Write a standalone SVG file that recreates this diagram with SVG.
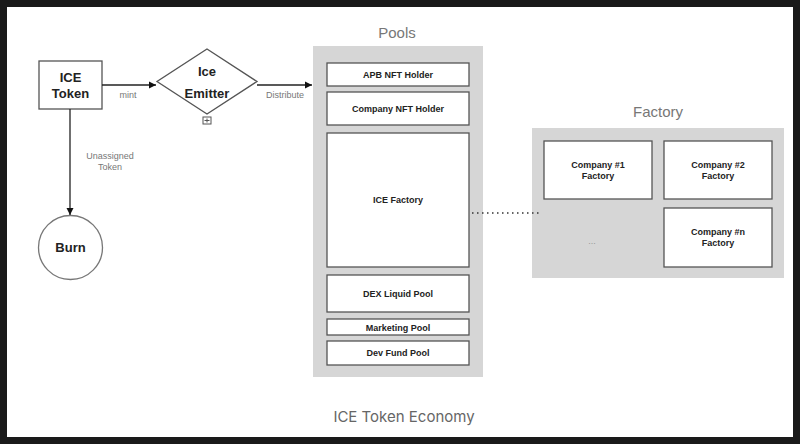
<svg xmlns="http://www.w3.org/2000/svg" width="800" height="444" viewBox="0 0 800 444">
<defs>
<marker id="arr" markerWidth="8" markerHeight="8" refX="7" refY="4" orient="auto" markerUnits="userSpaceOnUse">
<path d="M0,0.5 L7,4 L0,7.5 Z" fill="#111"/>
</marker>
<style>
.box{fill:#fff;stroke:#555;stroke-width:1.3}
.grp{fill:#d6d6d6}
.bt{font-family:"Liberation Sans",Arial,sans-serif;font-weight:bold;fill:#222;text-anchor:middle}
.lbl{font-family:"Liberation Sans",Arial,sans-serif;fill:#777;text-anchor:middle;font-size:9px}
.hd{font-family:"Liberation Sans",Arial,sans-serif;fill:#777;text-anchor:middle;font-size:15px}
.ln{stroke:#222;stroke-width:1.3;fill:none}
</style>
</defs>
<rect x="0" y="0" width="800" height="444" fill="#1a1a1a"/>
<rect x="7" y="7" width="786" height="430" fill="#fff"/>

<g id="ice-token">
<rect class="box" x="39" y="61" width="63" height="48"/>
<text class="bt" x="70.5" y="82" font-size="13">ICE</text>
<text class="bt" x="70.5" y="98" font-size="13">Token</text>
</g>

<g id="ice-emitter">
<polygon class="box" points="207,49 257,81.5 207,114 157,81.5"/>
<text class="bt" x="207" y="76" font-size="13">Ice</text>
<text class="bt" x="207" y="98" font-size="13">Emitter</text>
<rect x="203" y="117" width="8" height="7" fill="#fff" stroke="#555" stroke-width="1"/>
<path d="M207,118.5 V122.5 M204.5,120.5 H209.5" stroke="#555" stroke-width="1"/>
</g>

<g id="burn">
<circle cx="70.5" cy="247.5" r="32" fill="#fff" stroke="#777" stroke-width="1.3"/>
<text class="bt" x="70.5" y="252" font-size="13">Burn</text>
</g>

<g id="pools">
<text class="hd" x="397" y="38">Pools</text>
<rect class="grp" x="313" y="46" width="170" height="331"/>
</g>
<g id="apb-nft-holder">
<rect class="box" x="327" y="63" width="142" height="23"/>
<text class="bt" x="398" y="78" font-size="9">APB NFT Holder</text>
</g>
<g id="company-nft-holder">
<rect class="box" x="327" y="92" width="142" height="33"/>
<text class="bt" x="398" y="112" font-size="9">Company NFT Holder</text>
</g>
<g id="ice-factory">
<rect class="box" x="327" y="133" width="142" height="134"/>
<text class="bt" x="398" y="203" font-size="9">ICE Factory</text>
</g>
<g id="dex-liquid-pool">
<rect class="box" x="327" y="275" width="142" height="37"/>
<text class="bt" x="398" y="297" font-size="9">DEX Liquid Pool</text>
</g>
<g id="marketing-pool">
<rect class="box" x="327" y="319" width="142" height="16"/>
<text class="bt" x="398" y="330.5" font-size="9">Marketing Pool</text>
</g>
<g id="dev-fund-pool">
<rect class="box" x="327" y="341" width="142" height="24"/>
<text class="bt" x="398" y="356" font-size="9">Dev Fund Pool</text>
</g>

<g id="factory">
<text class="hd" x="658" y="117">Factory</text>
<rect class="grp" x="532" y="128" width="252" height="150"/>
<text x="592" y="244" font-family="Liberation Sans,Arial,sans-serif" font-size="9" fill="#999" text-anchor="middle">...</text>
</g>
<g id="company-1-factory">
<rect class="box" x="544" y="141" width="108" height="58"/>
<text class="bt" x="598" y="168" font-size="9">Company #1</text>
<text class="bt" x="598" y="179" font-size="9">Factory</text>
</g>
<g id="company-2-factory">
<rect class="box" x="664" y="141" width="108" height="58"/>
<text class="bt" x="718" y="168" font-size="9">Company #2</text>
<text class="bt" x="718" y="179" font-size="9">Factory</text>
</g>
<g id="company-n-factory">
<rect class="box" x="664" y="208" width="108" height="59"/>
<text class="bt" x="718" y="235" font-size="9">Company #n</text>
<text class="bt" x="718" y="246" font-size="9">Factory</text>
</g>

<g id="connectors">
<line class="ln" x1="102" y1="85" x2="156" y2="85" marker-end="url(#arr)"/>
<line class="ln" x1="257" y1="85" x2="312" y2="85" marker-end="url(#arr)"/>
<line class="ln" x1="70" y1="109" x2="70" y2="215" marker-end="url(#arr)"/>
<line x1="472" y1="213" x2="542" y2="213" stroke="#333" stroke-width="1.5" stroke-dasharray="1.5,3.5"/>
<text class="lbl" x="128" y="98">mint</text>
<text class="lbl" x="285" y="98">Distribute</text>
<text class="lbl" x="110" y="159">Unassigned</text>
<text class="lbl" x="110" y="170">Token</text>
</g>

<text x="404" y="422" font-family="Inter,'Liberation Sans',sans-serif" font-size="15" fill="#666" text-anchor="middle">ICE Token Economy</text>
</svg>
